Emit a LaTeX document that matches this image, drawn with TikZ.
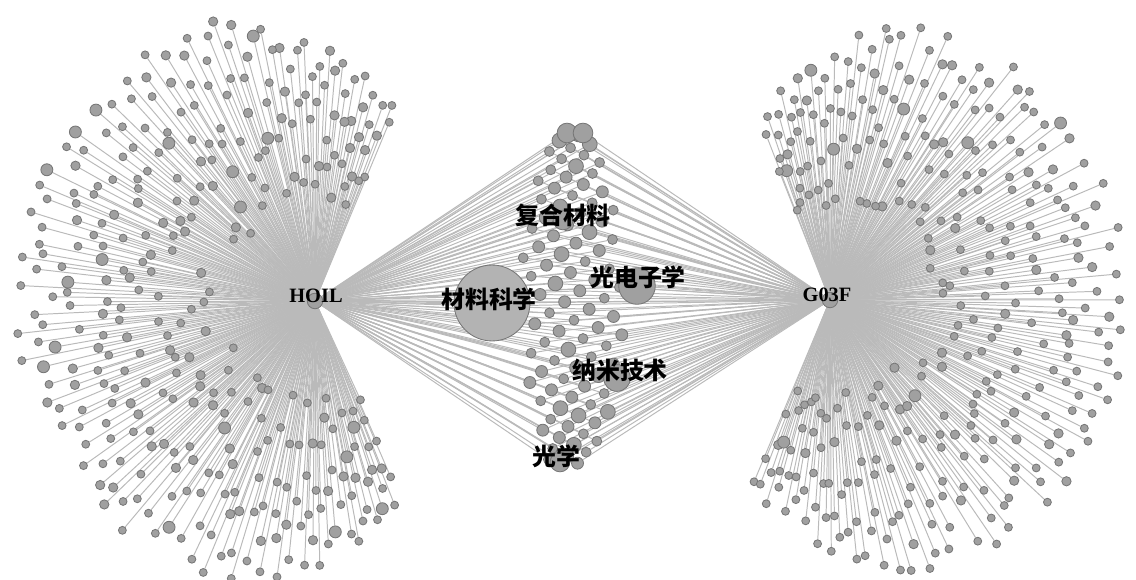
\documentclass[tikz,border=0pt]{standalone}
\usepackage{fontspec}
\setmainfont{Liberation Serif}
\newfontfamily\cjk{Noto Sans CJK SC}
\definecolor{edgec}{RGB}{186,186,186}
\definecolor{nodef}{RGB}{160,160,160}
\definecolor{noded}{RGB}{118,118,118}
\begin{document}
\begin{tikzpicture}[x=0.025cm,y=0.025cm,
  edge/.style={draw=edgec,line width=0.7pt},
  leaf/.style={circle,fill=nodef,draw=noded,line width=0.6pt,inner sep=0pt,minimum size=#1},
  leaf/.default=5.7pt,
  ghost/.style={circle,inner sep=0pt,minimum size=#1},
  lab/.style={font=\bfseries\fontsize{14.5}{14.5}\selectfont,text=black,inner sep=0pt},
  clab/.style={font=\cjk\bfseries\fontsize{17}{17}\selectfont,text=black,inner sep=0pt}]
\useasboundingbox (0,0) rectangle (1136,579);
\pgfmathsetseed{11}
\node[ghost=11pt] (hoil) at (315,278) {};
\node[ghost=11pt] (g03f) at (830,279) {};
% ---- pass 1: positions (invisible nodes)
\foreach \i in {1,...,330}{
  \pgfmathsetmacro\a{67+(\i-0.5)/330*228+(rnd-0.5)*0.6}
  \pgfmathsetmacro\t{min(\a-67,295-\a)}
  \pgfmathsetmacro\rm{\t>40 ? 3.0 : 2.15+0.021*\t}
  \pgfmathsetmacro\g{mod(\i*0.618034+0.15*rnd,1)}
  \pgfmathsetmacro\r{100*sqrt(0.92*0.92+\g*(\rm*\rm-0.92*0.92))}
  \pgfmathsetmacro\u{rnd}
  \pgfmathsetmacro\s{\u<0.05 ? 8.5 : (\u<0.25 ? 6.6 : 5.6)}
  \expandafter\xdef\csname szL\i\endcsname{\s}
  \node[ghost=\s pt] (L\i) at ([shift={(\a:\r)}]hoil.center) {};
}
\foreach \i in {1,...,330}{
  \pgfmathsetmacro\a{-113+(\i-0.5)/330*225+(rnd-0.5)*0.6}
  \pgfmathsetmacro\t{min(\a+113,112-\a)}
  \pgfmathsetmacro\rm{\t>40 ? 2.98 : 2.0+0.024*\t}
  \pgfmathsetmacro\g{mod(\i*0.618034+0.3+0.15*rnd,1)}
  \pgfmathsetmacro\r{100*sqrt(0.92*0.92+\g*(\rm*\rm-0.92*0.92))}
  \pgfmathsetmacro\u{rnd}
  \pgfmathsetmacro\s{\u<0.04 ? 8.5 : (\u<0.2 ? 6.6 : 5.6)}
  \expandafter\xdef\csname szR\i\endcsname{\s}
  \node[ghost=\s pt] (R\i) at ([shift={(\a:\r)}]g03f.center) {};
}
\foreach \i in {1,...,90}{
  \pgfmathsetmacro\yy{135+(\i-0.5)/90*330}
  \pgfmathsetmacro\w{20+32*(1-((\yy-300)/170)^2)}
  \pgfmathsetmacro\g{mod(\i*0.618034,1)}
  \pgfmathsetmacro\xx{572+(\g-0.5)*2*\w}
  \pgfmathsetmacro\u{rnd}
  \pgfmathsetmacro\s{\u<0.15 ? 10.5 : (\u<0.55 ? 8.5 : 7)}
  \expandafter\xdef\csname szM\i\endcsname{\s}
  \node[ghost=\s pt] (M\i) at (\xx,579-\yy) {};
}
\node[ghost=14pt] (mt1) at (567,446) {};
\node[ghost=14pt] (mt2) at (583,446) {};
\node[ghost=54pt] (clkx) at (492,276) {};
\node[ghost=26pt] (gdz) at (637,293) {};
\node[ghost=19pt] (nmjs) at (617,201) {};
\node[ghost=14pt] (fhcl) at (563,359) {};
\node[ghost=14pt] (gx) at (560,117) {};
% ---- pass 2: connectors
\foreach \i in {1,...,330}{\draw[edge] (hoil) -- (L\i); \draw[edge] (g03f) -- (R\i);}
\foreach \i in {1,...,90}{\draw[edge] (hoil) -- (M\i) -- (g03f);}
\foreach \n in {mt1,mt2,clkx,gdz,nmjs,fhcl,gx}{\draw[edge] (hoil) -- (\n) -- (g03f);}
% ---- pass 3: visible nodes
\foreach \i in {1,...,330}{
  \node[leaf=\csname szL\i\endcsname pt] (vL\i) at (L\i) {};
  \node[leaf=\csname szR\i\endcsname pt] (vR\i) at (R\i) {};
}
\foreach \i in {1,...,90}{\node[leaf=\csname szM\i\endcsname pt] (vM\i) at (M\i) {};}
\node[leaf=11pt] (vhoil) at (hoil) {};
\node[leaf=11pt] (vg03f) at (g03f) {};
\node[leaf=14pt] (vmt1) at (mt1) {};
\node[leaf=14pt] (vmt2) at (mt2) {};
\node[leaf=54pt,fill=nodef!80] (vclkx) at (clkx) {};
\node[leaf=26pt] (vgdz) at (gdz) {};
\node[leaf=19pt] (vnmjs) at (nmjs) {};
\node[leaf=14pt] (vfhcl) at (fhcl) {};
\node[leaf=14pt] (vgx) at (gx) {};
% ---- labels
\node[lab] (thoil) at (316,283) {HOIL};
\node[lab] (tg03f) at (827,284) {G03F};
\node[clab] (tclkx) at (489,280) {材料科学};
\node[clab] (tgdz) at (638,302) {光电子学};
\node[clab] (tnmjs) at (620,209) {纳米技术};
\node[clab] (tfhcl) at (563,364) {复合材料};
\node[clab] (tgx) at (556,123) {光学};
\end{tikzpicture}
\end{document}
